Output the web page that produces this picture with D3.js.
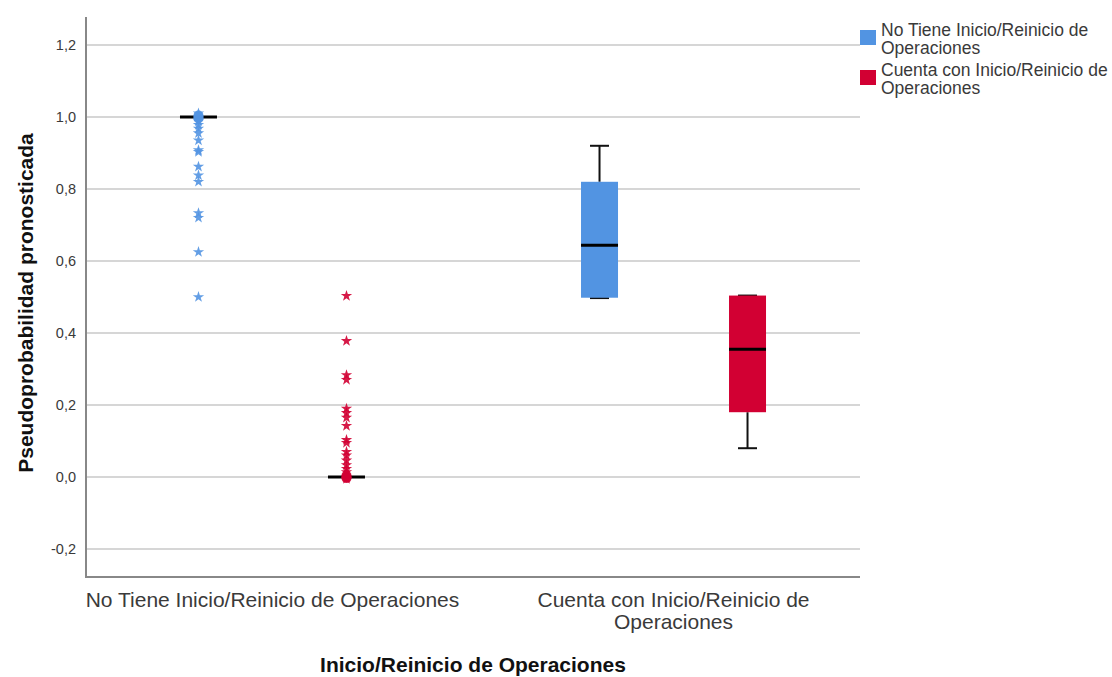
<!DOCTYPE html>
<html><head><meta charset="utf-8">
<script src="https://cdn.jsdelivr.net/npm/d3@7"></script>
<style>body{margin:0;background:#fff;} svg{display:block;font-family:"Liberation Sans",Arial,sans-serif;}</style>
</head><body><svg id="c" width="1112" height="677"></svg>
<script>
const categories = ["No Tiene Inicio/Reinicio de Operaciones", "Cuenta con Inicio/Reinicio de Operaciones"];
const categoryLines = [["No Tiene Inicio/Reinicio de Operaciones"], ["Cuenta con Inicio/Reinicio de", "Operaciones"]];
const series = ["No Tiene Inicio/Reinicio de Operaciones", "Cuenta con Inicio/Reinicio de Operaciones"];
const seriesLegendLines = [["No Tiene Inicio/Reinicio de", "Operaciones"], ["Cuenta con Inicio/Reinicio de", "Operaciones"]];
const colors = ["#5294E2", "#D20033"];
const yTicks = [-0.2, 0, 0.2, 0.4, 0.6, 0.8, 1.0, 1.2];
// box stats per [category][series]: [whiskerLow, q1, median, q3, whiskerHigh]
const boxStats = [
  [[1.0, 1.0, 1.0, 1.0, 1.0], [0.0, 0.0, 0.0, 0.0, 0.0]],
  [[0.497, 0.498, 0.644, 0.820, 0.920], [0.080, 0.180, 0.355, 0.504, 0.504]]
];
// extreme values (stars) and outliers (circles), category 0 only
const blueStars = [0.50, 0.625, 0.72, 0.733, 0.82, 0.838, 0.862, 0.903, 0.908, 0.935, 0.955, 0.968, 0.978, 0.988, 1.01];
const blueCircles = [0.996, 1.0, 1.004];
const redStars = [0.503, 0.378, 0.283, 0.27, 0.19, 0.178, 0.165, 0.142, 0.103, 0.095, 0.07, 0.06, 0.046, 0.033, 0.023, 0.014, -0.005];
const redCircles = [0.0, 0.004, -0.003];

const svg = d3.select("#c");
const L = 86, R = 860, T = 17, B = 577;
const y = d3.scaleLinear().domain([-0.2777, 1.2777]).range([B, T]);
const x = d3.scalePoint().domain(categories).range([L, R]).padding(0.465);
const xs = d3.scalePoint().domain(series).range([-74, 74]);
const boxW = 37, capW = 19;
const fmt = v => d3.format(".1f")(v).replace(".", ",").replace("−", "-");

// grid
svg.append("g").selectAll("line").data(yTicks).join("line")
  .attr("x1", L).attr("x2", R).attr("y1", d => y(d)).attr("y2", d => y(d))
  .attr("stroke", "#c8c8c8").attr("stroke-width", 1.5);

// y axis
const yAxis = d3.axisLeft(y).tickValues(yTicks).tickFormat(fmt).tickSize(0).tickPadding(10);
const ga = svg.append("g").attr("transform", `translate(${L},0)`).call(yAxis);
ga.select(".domain").remove();
ga.selectAll("text").attr("font-size", 14.5).attr("fill", "#3a3a3a").attr("font-family", "Liberation Sans, Arial, sans-serif");

// x axis
const xAxis = d3.axisBottom(x).tickSize(0).tickFormat("");
const gx = svg.append("g").attr("transform", `translate(0,${B})`).call(xAxis);
gx.select(".domain").remove();
svg.append("line").attr("x1", L).attr("x2", L).attr("y1", T).attr("y2", B + 1).attr("stroke", "#888").attr("stroke-width", 2);
svg.append("line").attr("x1", L - 1).attr("x2", R).attr("y1", B).attr("y2", B).attr("stroke", "#888").attr("stroke-width", 2);

categories.forEach((c, i) => {
  const t = svg.append("text").attr("text-anchor", "middle").attr("font-size", 21).attr("fill", "#3a3a3a");
  categoryLines[i].forEach((ln, k) => {
    t.append("tspan").attr("x", x(c)).attr("y", 607 + k * 22).text(ln);
  });
});

// boxes
categories.forEach((c, i) => {
  series.forEach((s, j) => {
    const cx = x(c) + xs(s);
    const [wl, q1, md, q3, wh] = boxStats[i][j];
    const g = svg.append("g");
    if (q3 > q1) {
      g.append("line").attr("x1", cx).attr("x2", cx).attr("y1", y(q3)).attr("y2", y(wh)).attr("stroke", "#111").attr("stroke-width", 2);
      g.append("line").attr("x1", cx).attr("x2", cx).attr("y1", y(q1)).attr("y2", y(wl)).attr("stroke", "#111").attr("stroke-width", 2);
      g.append("line").attr("x1", cx - capW / 2).attr("x2", cx + capW / 2).attr("y1", y(wh)).attr("y2", y(wh)).attr("stroke", "#111").attr("stroke-width", 2);
      g.append("line").attr("x1", cx - capW / 2).attr("x2", cx + capW / 2).attr("y1", y(wl)).attr("y2", y(wl)).attr("stroke", "#111").attr("stroke-width", 2);
      g.append("rect").attr("x", cx - boxW / 2).attr("width", boxW).attr("y", y(q3)).attr("height", y(q1) - y(q3)).attr("fill", colors[j]);
    }
    g.append("line").attr("x1", cx - boxW / 2).attr("x2", cx + boxW / 2).attr("y1", y(md)).attr("y2", y(md)).attr("stroke", "#000").attr("stroke-width", 3);
  });
});

// outliers
const c0 = categories[0];
const bx = x(c0) + xs(series[0]), rx = x(c0) + xs(series[1]);
const star = d3.symbol().type(d3.symbolStar).size(40);
const drawStars = (vals, cx, col) => svg.append("g").selectAll("path").data(vals).join("path")
  .attr("d", star).attr("transform", d => `translate(${cx},${y(d)})`).attr("fill", col).attr("opacity", 0.9);
const drawCircles = (vals, cx, col) => svg.append("g").selectAll("circle").data(vals).join("circle")
  .attr("cx", cx).attr("cy", d => y(d)).attr("r", 5).attr("fill", col).attr("opacity", 0.9);
drawStars(blueStars, bx, colors[0]);
drawCircles(blueCircles, bx, colors[0]);
drawStars(redStars, rx, colors[1]);
drawCircles(redCircles, rx, colors[1]);

// axis titles
svg.append("text").attr("x", (L + R) / 2).attr("y", 672).attr("text-anchor", "middle")
  .attr("font-size", 21).attr("font-weight", "bold").attr("fill", "#111").text("Inicio/Reinicio de Operaciones");
svg.append("text").attr("transform", `translate(33,303) rotate(-90)`).attr("text-anchor", "middle")
  .attr("font-size", 21).attr("font-weight", "bold").attr("fill", "#111").text("Pseudoprobabilidad pronosticada");

// legend
series.forEach((s, j) => {
  const ly = 30 + j * 40;
  svg.append("rect").attr("x", 860).attr("y", ly).attr("width", 16).attr("height", 15).attr("fill", colors[j]);
  const t = svg.append("text").attr("font-size", 17.5).attr("fill", "#3a3a3a");
  seriesLegendLines[j].forEach((ln, k) => {
    t.append("tspan").attr("x", 881).attr("y", ly + 6 + k * 18).text(ln);
  });
});
</script></body></html>
